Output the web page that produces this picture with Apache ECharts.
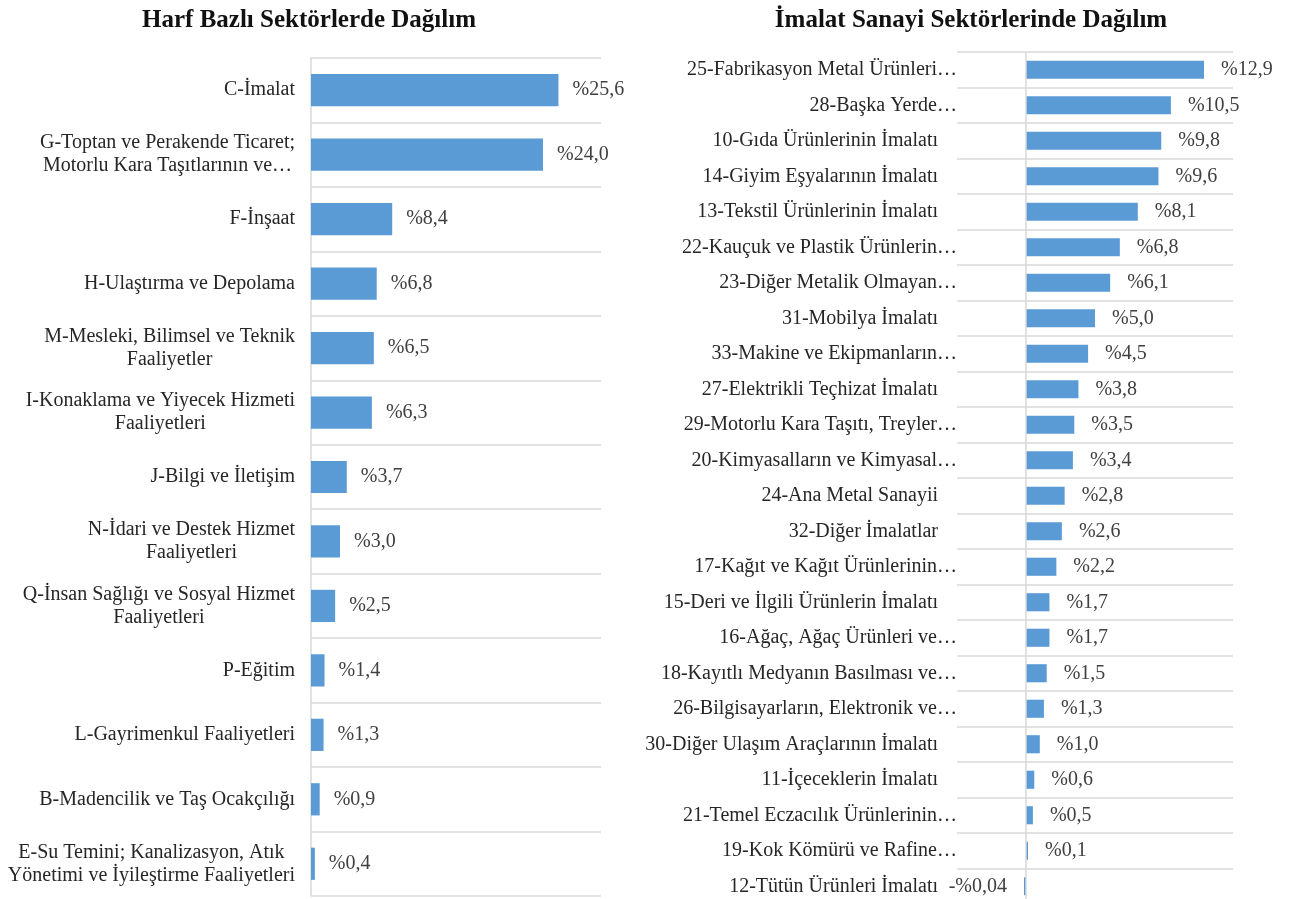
<!DOCTYPE html>
<html>
<head>
<meta charset="utf-8">
<script src="https://cdn.jsdelivr.net/npm/echarts@6/dist/echarts.min.js"></script>
<style>
  html, body { margin: 0; padding: 0; background: #fff; overflow: hidden; }
  #main { width: 1298px; height: 912px; }
</style>
</head>
<body>
<div id="main"></div>
<script>
// harf bazlı sektörler
var harfKategoriler = [
    'C-İmalat',
    'G-Toptan ve Perakende Ticaret;\nMotorlu Kara Taşıtlarının ve…',
    'F-İnşaat',
    'H-Ulaştırma ve Depolama',
    'M-Mesleki, Bilimsel ve Teknik\nFaaliyetler',
    'I-Konaklama ve Yiyecek Hizmeti\nFaaliyetleri',
    'J-Bilgi ve İletişim',
    'N-İdari ve Destek Hizmet\nFaaliyetleri',
    'Q-İnsan Sağlığı ve Sosyal Hizmet\nFaaliyetleri',
    'P-Eğitim',
    'L-Gayrimenkul Faaliyetleri',
    'B-Madencilik ve Taş Ocakçılığı',
    'E-Su Temini; Kanalizasyon, Atık\nYönetimi ve İyileştirme Faaliyetleri'
];
var harfDegerler = [25.6, 24.0, 8.4, 6.8, 6.5, 6.3, 3.7, 3.0, 2.5, 1.4, 1.3, 0.9, 0.4];

// imalat sanayi sektörleri
var imalatKategoriler = [
    '25-Fabrikasyon Metal Ürünleri…',
    '28-Başka Yerde…',
    '10-Gıda Ürünlerinin İmalatı',
    '14-Giyim Eşyalarının İmalatı',
    '13-Tekstil Ürünlerinin İmalatı',
    '22-Kauçuk ve Plastik Ürünlerin…',
    '23-Diğer Metalik Olmayan…',
    '31-Mobilya İmalatı',
    '33-Makine ve Ekipmanların…',
    '27-Elektrikli Teçhizat İmalatı',
    '29-Motorlu Kara Taşıtı, Treyler…',
    '20-Kimyasalların ve Kimyasal…',
    '24-Ana Metal Sanayii',
    '32-Diğer İmalatlar',
    '17-Kağıt ve Kağıt Ürünlerinin…',
    '15-Deri ve İlgili Ürünlerin İmalatı',
    '16-Ağaç, Ağaç Ürünleri ve…',
    '18-Kayıtlı Medyanın Basılması ve…',
    '26-Bilgisayarların, Elektronik ve…',
    '30-Diğer Ulaşım Araçlarının İmalatı',
    '11-İçeceklerin İmalatı',
    '21-Temel Eczacılık Ürünlerinin…',
    '19-Kok Kömürü ve Rafine…',
    '12-Tütün Ürünleri İmalatı'
];
var imalatDegerler = [12.9, 10.5, 9.8, 9.6, 8.1, 6.8, 6.1, 5.0, 4.5, 3.8, 3.5, 3.4, 2.8, 2.6, 2.2, 1.7, 1.7, 1.5, 1.3, 1.0, 0.6, 0.5, 0.1, -0.04];

var yazi = 'Liberation Serif';
var renk = '#5b9bd5';
var cizgi = '#d9d9d9';

var myChart = echarts.init(document.getElementById('main'));

// negatif değer etiketi sola
var imalatData = imalatDegerler.map(function (v) {
    if (v < 0) {
        return { value: v, label: { position: 'left' } };
    }
    return v;
});

function yuzde(v) {
    if (v < 0) return '-%' + Math.abs(v).toFixed(2).replace('.', ',');
    return '%' + v.toFixed(1).replace('.', ',');
}

var option = {
    animation: false,
    title: [{
        text: 'Harf Bazlı Sektörlerde Dağılım',
        left: 304,
        top: 3,
        textAlign: 'center',
        textStyle: { fontFamily: yazi, fontSize: 25, fontWeight: 'bold', color: '#111' }
    }, {
        text: 'İmalat Sanayi Sektörlerinde Dağılım',
        left: 966,
        top: 3,
        textAlign: 'center',
        textStyle: { fontFamily: yazi, fontSize: 25, fontWeight: 'bold', color: '#111' }
    }],
    grid: [
        { left: 311, top: 58, width: 290, height: 838 },
        { left: 957, top: 52, width: 276, height: 852 }
    ],
    xAxis: [
        { gridIndex: 0, type: 'value', min: 0, max: 30, show: false },
        { gridIndex: 1, type: 'value', min: -5, max: 15, show: false }
    ],
    yAxis: [{
        gridIndex: 0,
        type: 'category',
        inverse: true,
        data: harfKategoriler,
        axisLine: { show: true, lineStyle: { color: cizgi, width: 1.5 } },
        axisTick: { show: false },
        splitLine: { show: true, lineStyle: { color: cizgi, width: 1.5 } },
        axisLabel: {
            margin: 16,
            interval: 0,
            fontFamily: yazi,
            fontSize: 20,
            lineHeight: 23,
            color: '#262626',
            formatter: function (s) {
                // çok satırlı etiketleri ortala
                var satirlar = s.split('\n');
                if (satirlar.length === 1) return s;
                return satirlar.map(function (x) { return '{c|' + x + '}'; }).join('\n');
            },
            rich: {
                c: { align: 'center', fontFamily: yazi, fontSize: 20, lineHeight: 23, color: '#262626' }
            }
        }
    }, {
        gridIndex: 1,
        type: 'category',
        inverse: true,
        data: imalatKategoriler,
        axisLine: { show: false, onZero: false },
        axisTick: { show: false },
        splitLine: { show: true, lineStyle: { color: cizgi, width: 1.5 } },
        axisLabel: {
            margin: 0,
            interval: 0,
            fontFamily: yazi,
            fontSize: 20,
            color: '#262626',
            formatter: function (s) {
                if (s.indexOf('…') >= 0) return s;
                return '{n|' + s + '}';
            },
            rich: {
                n: { padding: [0, 19, 0, 0], fontFamily: yazi, fontSize: 20, color: '#262626' }
            }
        }
    }],
    series: [{
        name: 'Harf',
        type: 'bar',
        xAxisIndex: 0,
        yAxisIndex: 0,
        data: harfDegerler,
        barCategoryGap: '50%',
        barMinHeight: 2,
        itemStyle: { color: renk },
        label: {
            show: true,
            position: 'right',
            distance: 14,
            fontFamily: yazi,
            fontSize: 20,
            color: '#404040',
            formatter: function (p) { return yuzde(p.value); }
        }
    }, {
        name: 'İmalat',
        type: 'bar',
        xAxisIndex: 1,
        yAxisIndex: 1,
        data: imalatData,
        barCategoryGap: '49%',
        barMinHeight: 2,
        itemStyle: { color: renk },
        label: {
            show: true,
            position: 'right',
            distance: 17,
            fontFamily: yazi,
            fontSize: 20,
            color: '#404040',
            formatter: function (p) { return yuzde(p.value); }
        },
        markLine: {
            silent: true,
            symbol: ['none', 'none'],
            label: { show: false },
            lineStyle: { color: cizgi, type: 'solid', width: 1.5 },
            data: [{ xAxis: 0 }]
        }
    }]
};

myChart.setOption(option);
</script>
</body>
</html>
